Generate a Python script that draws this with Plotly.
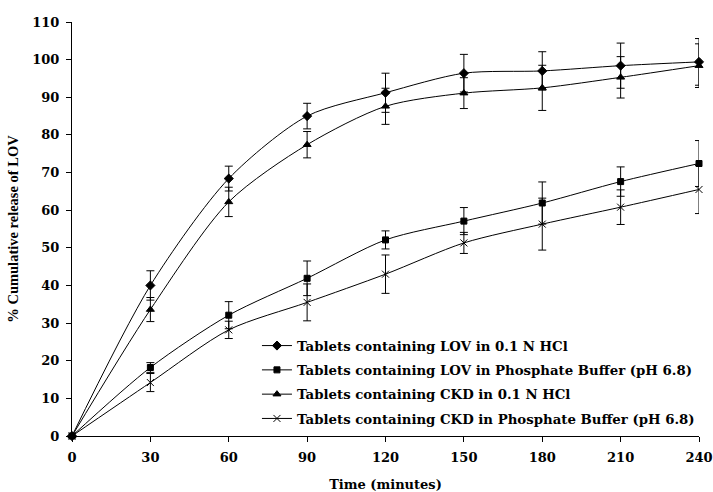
import plotly.graph_objects as go

time = [0, 30, 60, 90, 120, 150, 180, 210, 240]

lov_hcl = [0, 40.0, 68.4, 85.0, 91.2, 96.4, 97.0, 98.4, 99.4]
lov_hcl_err = [None, 3.9, 3.3, 3.4, 5.2, 5.0, 5.1, 6.0, 6.2]

lov_pb = [0, 18.2, 32.1, 41.9, 52.1, 57.1, 61.9, 67.6, 72.4]
lov_pb_err = [None, 1.3, 3.6, 4.6, 2.4, 3.6, 5.6, 3.9, 6.1]

ckd_hcl = [0, 33.6, 62.2, 77.4, 87.6, 91.1, 92.5, 95.3, 98.4]
ckd_hcl_err = [None, 3.2, 3.9, 3.5, 4.8, 4.1, 6.0, 5.5, 5.8]

ckd_pb = [0, 14.2, 28.2, 35.5, 43.0, 51.3, 56.3, 60.8, 65.5]
ckd_pb_err = [None, 2.4, 2.3, 4.9, 5.1, 2.8, 6.9, 4.6, 6.4]

names = [
    "Tablets containing LOV in 0.1 N HCl",
    "Tablets containing LOV in Phosphate Buffer (pH 6.8)",
    "Tablets containing CKD in 0.1 N HCl",
    "Tablets containing CKD in Phosphate Buffer (pH 6.8)",
]
series = [lov_hcl, lov_pb, ckd_hcl, ckd_pb]
errors = [lov_hcl_err, lov_pb_err, ckd_hcl_err, ckd_pb_err]
symbols = ["diamond", "square", "triangle-up", "x-thin-open"]
sizes = [7, 6, 7, 7]

WIDE = "DejaVu Serif"
SERIF = "Liberation Serif"

fig = go.Figure()
for i, (nm, ys, er, sym, sz) in enumerate(zip(names, series, errors, symbols, sizes)):
    fig.add_trace(go.Scatter(
        x=time, y=ys, name=nm, mode="lines+markers",
        legendgroup=f"g{i}",
        line=dict(color="black", width=1, shape="spline", smoothing=0.8),
        marker=dict(symbol=sym, size=sz, color="black",
                    line=dict(color="black", width=1)),
        error_y=dict(type="data", array=er, visible=True, color="black",
                     thickness=1, width=4),
        cliponaxis=False,
    ))

fig.update_layout(
    width=713, height=492,
    margin=dict(l=72, r=14, t=22, b=56),
    plot_bgcolor="white", paper_bgcolor="white",
    font=dict(family=WIDE, color="black"),
    showlegend=True,
    legend=dict(
        x=0.295, y=0.255, xanchor="left", yanchor="top",
        bgcolor="rgba(0,0,0,0)",
        font=dict(family=WIDE, size=13.3, color="black", weight="bold"),
        traceorder="grouped", tracegroupgap=4,
    ),
    xaxis=dict(
        range=[0, 240], tickvals=time, ticktext=[str(t) for t in time],
        showline=True, linecolor="black", linewidth=1,
        ticks="outside", ticklen=5, tickcolor="black",
        showgrid=False, zeroline=False, ticklabeloverflow="allow",
        ticklabelstandoff=4, automargin=False,
        tickfont=dict(family=WIDE, size=13, weight="bold"),
        title=dict(text="Time (minutes)",
                   font=dict(family=WIDE, size=13, weight="bold"),
                   standoff=16),
    ),
    yaxis=dict(
        range=[0, 110], dtick=10, tick0=0,
        showline=True, linecolor="black", linewidth=1,
        ticks="outside", ticklen=5, tickcolor="black",
        showgrid=False, zeroline=False,
        ticklabelstandoff=4, automargin=False,
        tickfont=dict(family=WIDE, size=13, weight="bold"),
        title=dict(text="% Cumulative release of LOV",
                   font=dict(family=SERIF, size=14.5, weight="bold"),
                   standoff=10),
    ),
)

fig.write_html(
    "out.html",
    config={"displayModeBar": False},
    post_script="document.body.style.margin='0';document.body.style.overflow='hidden';",
)
